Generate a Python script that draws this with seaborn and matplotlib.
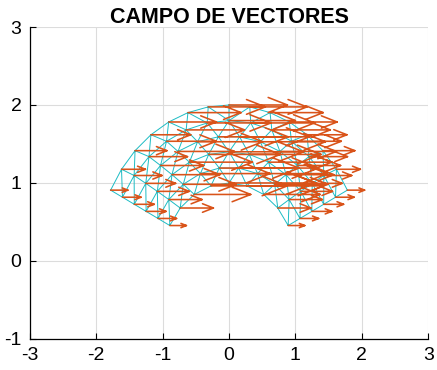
import numpy as np
import matplotlib
matplotlib.use("Agg")
import matplotlib.pyplot as plt
import matplotlib.tri as mtri
import seaborn as sns

# mallado del sector anular (radios de los anillos y nodos por anillo)
ring_radius = [1.0, 1.2, 1.4, 1.6, 1.8, 2.0]
ring_nodes = [9, 10, 11, 12, 13, 15]
angle_start = 27.0   # grados
angle_end = 153.0

# componente horizontal del campo en cada nodo
u_r10 = [0.25, 0.50, 0.85, 1.15, 1.30, 1.15, 0.85, 0.50, 0.25]
u_r12 = [0.28, 0.50, 0.80, 1.05, 1.20, 1.20, 1.05, 0.80, 0.50, 0.28]
u_r14 = [0.30, 0.48, 0.72, 0.95, 1.08, 1.12, 1.08, 0.95, 0.72, 0.48, 0.30]
u_r16 = [0.30, 0.45, 0.65, 0.85, 0.98, 1.05, 1.05, 0.98, 0.85, 0.65, 0.45, 0.30]
u_r18 = [0.28, 0.42, 0.58, 0.75, 0.88, 0.96, 1.00, 0.96, 0.88, 0.75, 0.58, 0.42, 0.28]
u_r20 = [0.26, 0.36, 0.48, 0.60, 0.72, 0.80, 0.86, 0.88, 0.86, 0.80, 0.72, 0.60, 0.48, 0.36, 0.26]
u_rings = [u_r10, u_r12, u_r14, u_r16, u_r18, u_r20]

xticks = [-3, -2, -1, 0, 1, 2, 3]
yticks = [-1, 0, 1, 2, 3]
title = "CAMPO DE VECTORES"

sns.set_style("whitegrid")
plt.rcParams["font.family"] = ["Liberation Sans", "DejaVu Sans"]

# nodos
xs, ys, us = [], [], []
for r, n, uu in zip(ring_radius, ring_nodes, u_rings):
    th = np.radians(np.linspace(angle_start, angle_end, n))
    xs.extend(r * np.cos(th))
    ys.extend(r * np.sin(th))
    us.extend(uu)
xs = np.array(xs)
ys = np.array(ys)
us = np.array(us)

tri = mtri.Triangulation(xs, ys)
cx = xs[tri.triangles].mean(axis=1)
cy = ys[tri.triangles].mean(axis=1)
tri.set_mask(np.hypot(cx, cy) < ring_radius[0] + 0.02)

fig = plt.figure(figsize=(4.37, 3.70), dpi=100)
ax = fig.add_axes([0.068, 0.084, 0.912, 0.843])

ax.triplot(tri, color="#1CBCC4", lw=0.7)

# flechas estilo quiver de Octave (cuerpo + dos barbas)
seg_x, seg_y = [], []
for x0, y0, u in zip(xs, ys, us):
    x1 = x0 + u
    hl = 0.33 * u
    hw = 0.11 * u
    seg_x += [x0, x1, np.nan, x1 - hl, x1, x1 - hl, np.nan]
    seg_y += [y0, y0, np.nan, y0 + hw, y0, y0 - hw, np.nan]
ax.plot(seg_x, seg_y, color="#D95319", lw=1.15)

ax.set_xlim(-3, 3)
ax.set_ylim(-1, 3)
ax.set_xticks(xticks)
ax.set_yticks(yticks)
ax.set_xticklabels([str(v) for v in xticks])
ax.set_yticklabels([str(v) for v in yticks])
ax.grid(True, color="#DCDCDC", lw=0.8)
ax.tick_params(direction="in", length=4, width=0.8, labelsize=14, colors="black",
               bottom=True, left=True, pad=6)
for s in ["top", "right"]:
    ax.spines[s].set_visible(False)
for s in ["left", "bottom"]:
    ax.spines[s].set_color("black")
    ax.spines[s].set_linewidth(0.9)
ax.set_title(title, fontsize=15.5, fontweight="bold", color="black", pad=3)

fig.savefig("out.png", dpi=100)
